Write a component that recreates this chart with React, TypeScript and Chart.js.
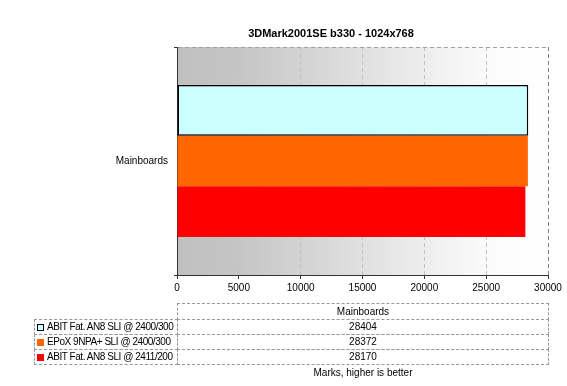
import React, { useEffect, useRef } from "react";
import { Chart, registerables } from "chart.js";

Chart.register(...registerables);

const TITLE = "3DMark2001SE b330 - 1024x768";
const CATEGORIES = ["Mainboards"];
const SERIES_NAMES = [
  "ABIT Fat. AN8 SLI @ 2400/300",
  "EPoX 9NPA+ SLI @ 2400/300",
  "ABIT Fat. AN8 SLI @ 2411/200",
];
const SERIES_VALUES = [28404, 28372, 28170];
const SERIES_COLORS = ["#ccffff", "#ff6600", "#ff0000"];
const SERIES_BORDERS = ["#000000", "#ff6600", "#ff0000"];
const SERIES_BORDER_WIDTHS = [1.5, 0, 0];
const X_MIN = 0;
const X_MAX = 30000;
const X_STEP = 5000;
const FOOTER = "Marks, higher is better";

const FONT = "'Liberation Sans', Arial, sans-serif";
const FS = 10;

const gradientPlugin = {
  id: "bgGradient",
  beforeDraw(chart: any) {
    const { ctx, chartArea } = chart;
    if (!chartArea) return;
    const g = ctx.createLinearGradient(chartArea.left, 0, chartArea.right, 0);
    g.addColorStop(0, "#c0c0c0");
    g.addColorStop(0.15, "#c4c4c4");
    g.addColorStop(0.85, "#fcfcfc");
    g.addColorStop(1, "#ffffff");
    ctx.save();
    ctx.fillStyle = g;
    ctx.fillRect(chartArea.left, chartArea.top, chartArea.right - chartArea.left, chartArea.bottom - chartArea.top);
    ctx.restore();
  },
};

export default function App() {
  const ref = useRef<HTMLCanvasElement | null>(null);

  useEffect(() => {
    if (!ref.current) return;
    const chart = new Chart(ref.current, {
      type: "bar",
      data: {
        labels: CATEGORIES,
        datasets: SERIES_NAMES.map((name, i) => ({
          label: name,
          data: [SERIES_VALUES[i]],
          backgroundColor: SERIES_COLORS[i],
          borderColor: SERIES_BORDERS[i],
          borderWidth: SERIES_BORDER_WIDTHS[i],
          borderSkipped: false,
          categoryPercentage: 2 / 3,
          barPercentage: 1,
        })),
      },
      options: {
        indexAxis: "y",
        responsive: false,
        animation: false,
        layout: { padding: { left: 0, right: 19, top: 47, bottom: 0 } },
        plugins: {
          legend: { display: false },
          title: { display: false },
          tooltip: { enabled: false },
        },
        scales: {
          x: {
            min: X_MIN,
            max: X_MAX,
            afterFit(scale: any) {
              scale.height = 111;
            },
            ticks: {
              stepSize: X_STEP,
              color: "#000",
              font: { family: FONT, size: FS },
              padding: 3,
              maxRotation: 0,
              callback: (v: any) => String(v),
            },
            grid: {
              color: (c: any) => (c.tick && c.tick.value === X_MAX ? "#808080" : "#c0c0c0"),
              tickColor: "#333333",
              tickLength: 4,
              lineWidth: 1,
            },
            border: { color: "#333333", width: 1, dash: [4, 3] },
          },
          y: {
            afterFit(scale: any) {
              scale.width = 177;
            },
            ticks: {
              color: "#000",
              font: { family: FONT, size: FS },
              padding: 6,
            },
            grid: {
              color: "#a0a0a0",
              tickColor: "#333333",
              tickLength: 3,
              offset: true,
            },
            border: { color: "#333333", width: 1, dash: [4, 3] },
          },
        },
      },
      plugins: [gradientPlugin],
    } as any);
    return () => chart.destroy();
  }, []);

  const cell: React.CSSProperties = {
    position: "absolute",
    boxSizing: "border-box",
    fontFamily: FONT,
    fontSize: FS,
    color: "#000",
    lineHeight: "14px",
    whiteSpace: "nowrap",
  };
  const dash = "1px dashed #999999";
  const rowTops = [319, 334, 349];
  const rowH = 15;

  return (
    <div style={{ position: "absolute", left: 0, top: 0, width: 567, height: 386, background: "#fff" }}>
      <canvas ref={ref} width={567} height={386} style={{ display: "block" }} />
      <div
        style={{
          ...cell,
          left: 176,
          width: 310,
          top: 26,
          textAlign: "center",
          fontWeight: "bold",
          fontSize: 11,
        }}
      >
        {TITLE}
      </div>
      <div
        style={{
          ...cell,
          left: 177,
          top: 303,
          width: 372,
          height: 17,
          borderTop: dash,
          borderLeft: dash,
          borderRight: dash,
          textAlign: "center",
          lineHeight: "15px",
        }}
      >
        {CATEGORIES[0]}
      </div>
      {SERIES_NAMES.map((name, i) => (
        <React.Fragment key={name}>
          <div
            style={{
              ...cell,
              left: 34,
              top: rowTops[i],
              width: 144,
              height: rowH + 1,
              border: dash,
              paddingLeft: 2,
              display: "flex",
              alignItems: "center",
              overflow: "hidden",
            }}
          >
            <span
              style={{
                display: "inline-block",
                flex: "0 0 7px",
                width: 7,
                height: 7,
                boxSizing: "border-box",
                background: SERIES_COLORS[i],
                border: i === 0 ? "1px solid #000" : "none",
                marginRight: 3,
              }}
            />
            <span style={{ letterSpacing: "-0.45px" }}>{name}</span>
          </div>
          <div
            style={{
              ...cell,
              left: 177,
              top: rowTops[i],
              width: 372,
              height: rowH + 1,
              border: dash,
              textAlign: "center",
            }}
          >
            {SERIES_VALUES[i]}
          </div>
        </React.Fragment>
      ))}
      <div style={{ ...cell, left: 177, top: 366, width: 372, textAlign: "center" }}>{FOOTER}</div>
    </div>
  );
}
